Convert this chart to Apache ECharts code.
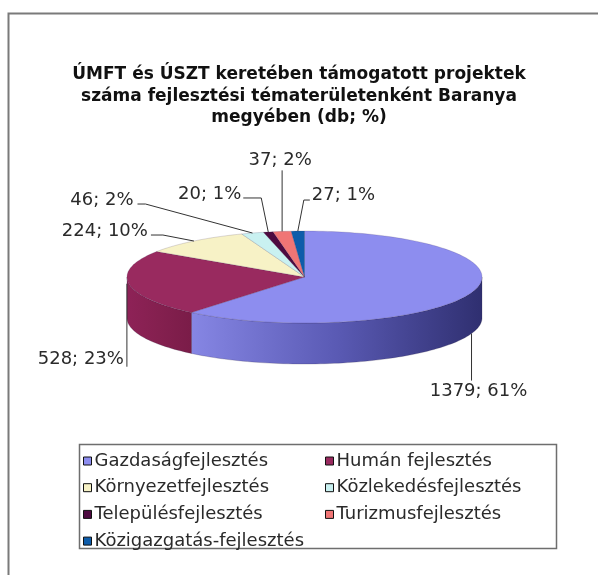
<!DOCTYPE html>
<html>
<head>
<meta charset="utf-8">
<script src="https://cdn.jsdelivr.net/npm/echarts@6/dist/echarts.min.js"></script>
<style>
  html, body { margin: 0; padding: 0; background: #fff; }
  #chart { width: 598px; height: 575px; }
</style>
</head>
<body>
<div id="chart"></div>
<script>
// Projects per development theme (count of supported projects)
const categories = [
  'Gazdaságfejlesztés',
  'Humán fejlesztés',
  'Környezetfejlesztés',
  'Közlekedésfejlesztés',
  'Településfejlesztés',
  'Turizmusfejlesztés',
  'Közigazgatás-fejlesztés'
];
const counts = [1379, 528, 224, 46, 20, 37, 27];

// Legend columns
const legendLeft = ['Gazdaságfejlesztés', 'Környezetfejlesztés', 'Településfejlesztés', 'Közigazgatás-fejlesztés'];
const legendRight = ['Humán fejlesztés', 'Közlekedésfejlesztés', 'Turizmusfejlesztés'];

// Slice styling: top face colours and side wall gradients
const topColors = ['#8d8def', '#992a5f', '#f7f2c6', '#c9f1f1', '#4d0a40', '#f07575', '#0d5caa'];
const sideColors = [
  ['#8686e4', '#5a5ab4', '#2f2f70'],
  ['#8e2257', '#84204f', '#7a1c48'],
  ['#e0dcb0', '#d5d0a5', '#cac59a'],
  ['#b0d8d8', '#a8d0d0', '#a0c8c8'],
  ['#3e0834', '#3a0730', '#35062c'],
  ['#d86060', '#d05858', '#c85050'],
  ['#0a4a8a', '#094482', '#083e7a']
];

const FONT = '"DejaVu Sans", "Liberation Sans", Arial, sans-serif';

// 3D pie geometry
const geo = { cx: 304.5, cy: 277, rx: 177.5, ry: 46, depth: 41 };

// Leader lines and label placement, relative to each slice's anchor point
const labelLayout = [
  { anchor: 'base', leader: [[0, 0], [0, 47]], text: [7, 58], align: 'center' },
  { anchor: 'top', leader: [[-2, 0], [-2, 83]], text: [-5, 76], align: 'right' },
  { anchor: 'top', leader: [[0, 0], [-31, -6], [-43, -6]], text: [-46, -10], align: 'right' },
  { anchor: 'top', leader: [[0, 0], [-107, -29], [-115, -29]], text: [-119, -33], align: 'right' },
  { anchor: 'top', leader: [[0, 0], [-7, -34], [-25, -34]], text: [-27, -38], align: 'right' },
  { anchor: 'top', leader: [[0, 0], [0, -61]], text: [-2, -71], align: 'center' },
  { anchor: 'top', leader: [[0, 0], [6, -31], [12, -31]], text: [14, -36], align: 'left' }
];

const total = counts.reduce((a, b) => a + b, 0);
const starts = [];
let acc = 0;
counts.forEach(v => { starts.push(acc / total * 360); acc += v; });
const ends = counts.map((v, i) => starts[i] + v / total * 360);

function pt(deg, dy) {
  const r = deg * Math.PI / 180;
  return [geo.cx + geo.rx * Math.sin(r), geo.cy - geo.ry * Math.cos(r) + (dy || 0)];
}
function arc(a0, a1, dy) {
  const pts = [];
  const n = Math.max(2, Math.ceil(Math.abs(a1 - a0) / 1.5));
  for (let k = 0; k <= n; k++) pts.push(pt(a0 + (a1 - a0) * k / n, dy));
  return pts;
}

function sliceSeries(i) {
  return {
    type: 'custom',
    name: categories[i],
    coordinateSystem: 'none',
    itemStyle: { color: topColors[i] },
    silent: true,
    data: [counts[i]],
    renderItem: function () {
      const a0 = starts[i], a1 = ends[i];
      const children = [];
      const s = Math.max(a0, 90), e = Math.min(a1, 270);
      if (e > s) {
        const pts = arc(s, e, 0).concat(arc(e, s, geo.depth));
        children.push({
          type: 'polygon',
          shape: { points: pts },
          style: {
            fill: {
              type: 'linear', x: 1, y: 0, x2: 0, y2: 0,
              colorStops: [
                { offset: 0, color: sideColors[i][2] },
                { offset: 0.5, color: sideColors[i][1] },
                { offset: 1, color: sideColors[i][0] }
              ]
            },
            stroke: 'rgba(40,30,60,0.35)', lineWidth: 0.6
          }
        });
      }
      const top = [[geo.cx, geo.cy]].concat(arc(a0, a1, 0));
      children.push({
        type: 'polygon',
        shape: { points: top },
        style: { fill: topColors[i], stroke: 'rgba(60,40,80,0.35)', lineWidth: 0.5 }
      });
      return { type: 'group', children: children };
    }
  };
}

const labelSeries = {
  type: 'custom',
  coordinateSystem: 'none',
  silent: true,
  z: 10,
  data: counts.map((v, i) => [i, v]),
  renderItem: function (params, api) {
    const i = api.value(0);
    const v = api.value(1);
    const lay = labelLayout[i];
    const mid = (starts[i] + ends[i]) / 2;
    const a = pt(mid, lay.anchor === 'base' ? geo.depth : 0);
    const pts = lay.leader.map(o => [a[0] + o[0], a[1] + o[1]]);
    const pct = Math.round(v / total * 100);
    return {
      type: 'group',
      children: [
        { type: 'polyline', shape: { points: pts }, style: { stroke: '#333', lineWidth: 1, fill: null } },
        {
          type: 'text',
          x: a[0] + lay.text[0], y: a[1] + lay.text[1],
          style: {
            text: v + '; ' + pct + '%',
            fill: '#2a2a2a',
            font: '18px ' + FONT,
            align: lay.align, verticalAlign: 'middle'
          }
        }
      ]
    };
  }
};

const legendBase = {
  orient: 'vertical',
  top: 447,
  itemWidth: 8,
  itemHeight: 8,
  itemGap: 8.7,
  icon: 'rect',
  selectedMode: false,
  itemStyle: { borderColor: '#111', borderWidth: 1 },
  textStyle: { fontFamily: FONT, fontSize: 18, color: '#2a2a2a', padding: [0, 0, 0, -2], lineHeight: 18 }
};

const chart = echarts.init(document.getElementById('chart'), null, { renderer: 'canvas' });
chart.setOption({
  backgroundColor: '#ffffff',
  animation: false,
  title: {
    text: 'ÚMFT és ÚSZT keretében támogatott projektek\nszáma fejlesztési tématerületenként Baranya\nmegyében (db; %)',
    left: 'center',
    top: 59,
    textStyle: { fontFamily: FONT, fontSize: 17, fontWeight: 'bold', color: '#111', lineHeight: 21.5 }
  },
  legend: [
    Object.assign({}, legendBase, { left: 78, data: legendLeft }),
    Object.assign({}, legendBase, { left: 320, data: legendRight })
  ],
  graphic: [
    { type: 'rect', shape: { x: 8.5, y: 13.5, width: 620, height: 600 }, style: { fill: null, stroke: '#7a7a7a', lineWidth: 2 }, z: -1 },
    { type: 'rect', shape: { x: 79.5, y: 444.5, width: 477, height: 104 }, style: { fill: null, stroke: '#6e6e6e', lineWidth: 1.5 }, z: -1 }
  ],
  series: categories.map((c, i) => sliceSeries(i)).concat([labelSeries])
});
</script>
</body>
</html>
